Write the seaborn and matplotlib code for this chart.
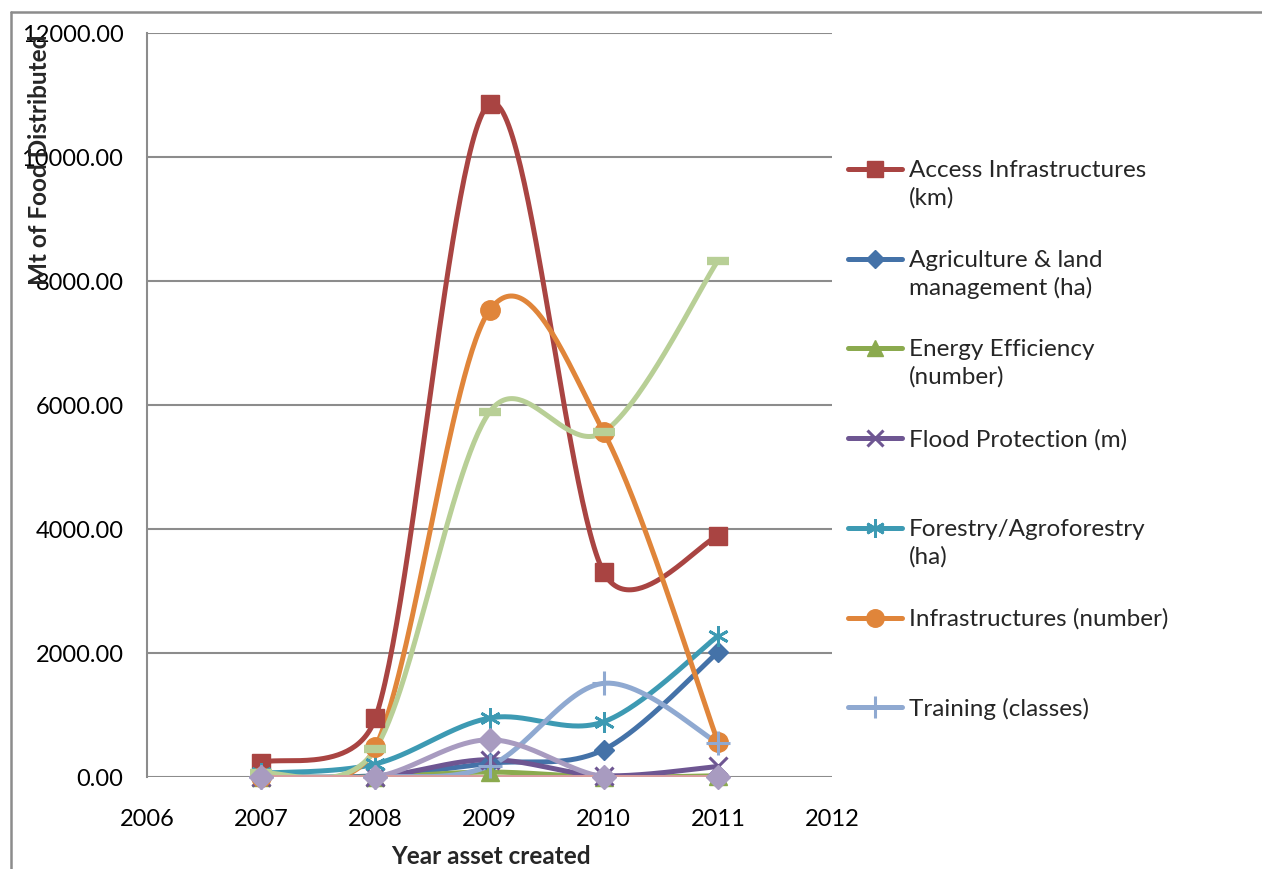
import numpy as np
import matplotlib
matplotlib.use("Agg")
import matplotlib.pyplot as plt
from matplotlib.lines import Line2D
from matplotlib.ticker import FormatStrFormatter
import seaborn as sns

# ---- data -------------------------------------------------------------
years = [2007, 2008, 2009, 2010, 2011]

access_infra = [230, 950, 10850, 3300, 3880]
agriculture = [0, 20, 220, 440, 2010]
energy = [0, 0, 80, 0, 20]
flood = [0, 0, 280, 20, 170]
forestry = [60, 210, 950, 890, 2270]
infrastructures = [0, 480, 7520, 5560, 570]
training = [0, 0, 180, 1510, 550]
series8 = [60, 450, 5880, 5560, 8320]
series9 = [0, 0, 600, 0, 0]
series10 = [0, 0, 0, 0, 0]

legend_labels = [
    "Access Infrastructures\n(km)",
    "Agriculture & land\nmanagement (ha)",
    "Energy Efficiency\n(number)",
    "Flood Protection (m)",
    "Forestry/Agroforestry\n(ha)",
    "Infrastructures (number)",
    "Training (classes)",
]

yticks = [0, 2000, 4000, 6000, 8000, 10000, 12000]
xticks = [2006, 2007, 2008, 2009, 2010, 2011, 2012]

# ---- styles -----------------------------------------------------------
styles = [
    # values, colour, marker, marker size, marker edge width
    (access_infra, "#A94442", "s", 13, 1),
    (agriculture, "#4472A8", "D", 10, 1),
    (energy, "#8BAA4E", "^", 13, 1),
    (flood, "#6E5692", "x", 13, 2.2),
    (forestry, "#3D9AB3", (6, 2, 0), 15, 2.0),
    (infrastructures, "#E0853A", "o", 14, 1),
    (training, "#8FA9D1", "+", 17, 2.2),
    (series8, "#B8CF96", "_", 16, 6),
    (series9, "#A89BC0", "D", 12, 1),
    (series10, "#D79C9C", None, 0, 0),
]

# ---- layout (pixels) ----------------------------------------------------
W, H = 1262, 870
AX_L, AX_R, AX_T, AX_B = 147, 832, 33.5, 778
XMIN, XMAX, YMIN, YMAX = 2006, 2012, 0, 12000
SX = (AX_R - AX_L) / (XMAX - XMIN)      # pixels per year
SY = (AX_B - AX_T) / (YMAX - YMIN)      # pixels per unit


def smooth(xs, ys, n=60):
    """Bezier smoothing through every point, control arms 1/6 of the
    neighbour chord, clipped to half of the segment (screen space)."""
    p = np.column_stack([np.asarray(xs, float) * SX,
                         np.asarray(ys, float) * SY])
    ext = np.vstack([p[0], p, p[-1]])
    t = np.linspace(0, 1, n)[:, None]
    out = []
    for i in range(len(p) - 1):
        p0, p1, p2, p3 = ext[i], ext[i + 1], ext[i + 2], ext[i + 3]
        seg_len = np.linalg.norm(p2 - p1)
        a1 = (p2 - p0) / 6.0
        a2 = (p3 - p1) / 6.0
        for a in (a1, a2):
            la = np.linalg.norm(a)
            if la > seg_len / 2 and la > 0:
                a *= (seg_len / 2) / la
        c1 = p1 + a1
        c2 = p2 - a2
        seg = ((1 - t) ** 3) * p1 + 3 * ((1 - t) ** 2) * t * c1 \
            + 3 * (1 - t) * t ** 2 * c2 + t ** 3 * p2
        out.append(seg if i == 0 else seg[1:])
    seg = np.vstack(out)
    return seg[:, 0] / SX, seg[:, 1] / SY


# ---- figure -----------------------------------------------------------
sns.set_theme(style="white")
plt.rcParams["font.family"] = ["Lato", "DejaVu Sans"]

fig = plt.figure(figsize=(W / 100, H / 100), dpi=100)
ax = fig.add_axes([AX_L / W, 1 - AX_B / H, (AX_R - AX_L) / W,
                   (AX_B - AX_T) / H])

grid_c = "#8C8C8C"
for v in yticks:
    ax.axhline(v, color=grid_c, lw=1.5, zorder=0)

for vals, col, mk, ms, mew in styles:
    sx, sy = smooth(years, vals)
    sns.lineplot(x=sx, y=sy, color=col, lw=3.6, ax=ax, sort=False,
                 estimator=None, solid_capstyle="round", zorder=2)
    if mk is not None:
        ax.plot(years, vals, linestyle="none", marker=mk, markersize=ms,
                color=col, markeredgecolor=col, markeredgewidth=mew,
                zorder=3, clip_on=False)

ax.set_xlim(XMIN, XMAX)
ax.set_ylim(YMIN, YMAX)
ax.set_xticks(xticks)
ax.set_yticks(yticks)
ax.yaxis.set_major_formatter(FormatStrFormatter("%.2f"))
ax.tick_params(axis="both", length=0, labelsize=17, colors="black")
ax.tick_params(axis="x", pad=22)
ax.tick_params(axis="y", pad=17)
for side in ["top", "right", "bottom"]:
    ax.spines[side].set_visible(False)
ax.spines["left"].set_color(grid_c)
ax.spines["left"].set_linewidth(1.5)
ax.set_xlabel("")
ax.set_ylabel("")

fig.text(40 / W, 1 - 160 / H, "Mt of Food Distributed", rotation=90,
         ha="center", va="center", fontsize=17.5, fontweight="bold")
fig.text(491 / W, 1 - 857 / H, "Year asset created",
         ha="center", va="center", fontsize=17.5, fontweight="bold")

# legend entries
for i, lab in enumerate(legend_labels):
    vals, col, mk, ms, mew = styles[i]
    yy = 1 - (170 + 89.7 * i) / H
    fig.add_artist(Line2D([848 / W, 902 / W], [yy, yy], color=col, lw=3.6,
                          solid_capstyle="round"))
    fig.add_artist(Line2D([875 / W], [yy], marker=mk, markersize=ms * 0.9,
                          color=col, markeredgecolor=col, markeredgewidth=mew,
                          linestyle="none"))
    fig.text(909 / W, yy + 10 / H, lab, ha="left", va="top", fontsize=17.5,
             linespacing=1.35)

# outer chart border
fig.add_artist(Line2D([11 / W, 1.0], [1 - 13 / H, 1 - 13 / H],
                      color=grid_c, lw=1.8))
fig.add_artist(Line2D([11 / W, 11 / W], [0, 1 - 13 / H],
                      color=grid_c, lw=1.8))

fig.savefig("out.png", dpi=100, facecolor="white")
